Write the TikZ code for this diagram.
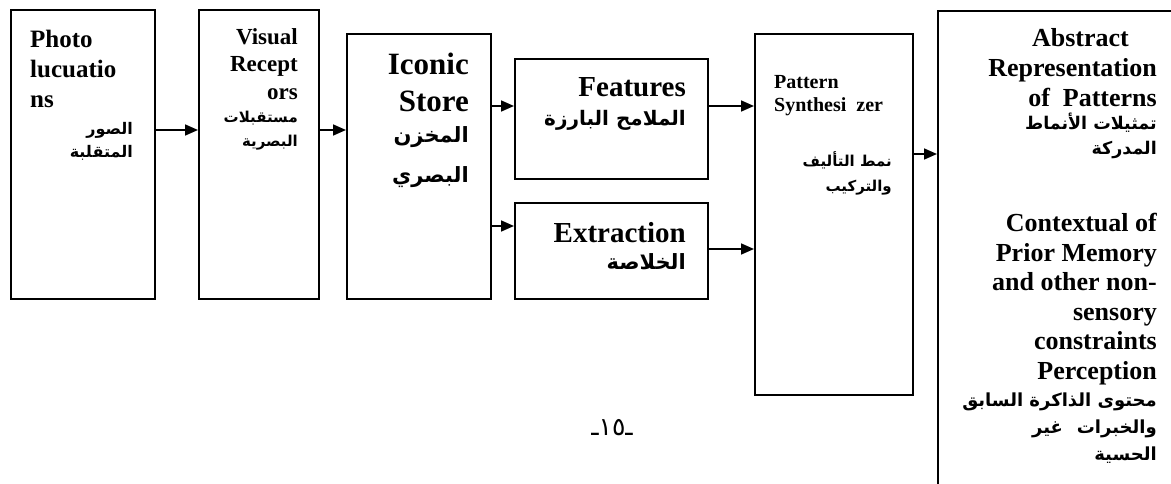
\documentclass[tikz,border=0pt]{standalone}
\usepackage{fontspec}
\setmainfont{Liberation Serif}
\newfontfamily\arabicfont[Script=Arabic]{DejaVu Sans}
\usetikzlibrary{arrows.meta}
\TeXXeTstate=1
\newcommand{\ar}[1]{\beginR #1\endR}
\tikzset{
	box/.style={draw, line width=1.7pt, inner sep=0pt, anchor=north west},
	arrow/.style={line width=1.7pt, -{Triangle[length=13pt,width=11pt]}},
	entxt/.style 2 args={inner sep=0pt, font=\bfseries\fontsize{#1}{#2}\selectfont},
	artxt/.style 2 args={inner sep=0pt, align=right, font=\arabicfont\bfseries\fontsize{#1}{#2}\selectfont},
}
\begin{document}
\begin{tikzpicture}[x=1pt,y=-1pt]
		\useasboundingbox (0,0) rectangle (1171,484);

		% Draw the boxes
		\node[box, minimum width=144pt, minimum height=289pt] (photo) at (10,9) {};
		\node[box, minimum width=120pt, minimum height=289pt] (visual) at (198,9) {};
		\node[box, minimum width=144pt, minimum height=265pt] (iconic) at (346,33) {};
		\node[box, minimum width=193pt, minimum height=120pt] (features) at (514,58) {};
		\node[box, minimum width=193pt, minimum height=96pt] (extraction) at (514,202) {};
		\node[box, minimum width=158pt, minimum height=361pt] (pattern) at (754,33) {};
		\node[box, minimum width=260pt, minimum height=500pt] (abstract) at (937,10) {};

		% Texts in the boxes
		\node[entxt={25}{30}, anchor=north west, align=left] (photoT) at (30,30) {Photo\\lucuatio\\ns};
		\node[artxt={16}{23}, anchor=north east] (photoA) at (133,122) {\ar{الصور}\\\ar{المتقلبة}};
		\node[entxt={23}{27.5}, anchor=north east, align=right] (visualT) at (298,28) {Visual\\Recept\\ors};
		\node[artxt={15}{24}, anchor=north east] (visualA) at (298,111) {\ar{مستقبلات}\\\ar{البصرية}};
		\node[entxt={31}{37}, anchor=north east, align=right] (iconicT) at (469,53) {Iconic\\Store};
		\node[artxt={21}{40}, anchor=north east] (iconicA) at (469,126) {\ar{المخزن}\\\ar{البصري}};
		\node[entxt={29}{34}, anchor=north east] (featuresT) at (686,77) {Features};
		\node[artxt={20}{26}, anchor=north east] (featuresA) at (686,110) {\ar{الملامح البارزة}};
		\node[entxt={29}{34}, anchor=north east] (extractionT) at (686,222) {Extraction};
		\node[artxt={21}{26}, anchor=north east] (extractionA) at (686,253) {\ar{الخلاصة}};
		\node[entxt={20}{23}, anchor=north west, align=left] (patternT) at (774,75) {Pattern\\Synthesi\ \ zer};
		\node[artxt={15}{25}, anchor=north east] (patternA) at (892,151) {\ar{نمط التأليف}\\\ar{والتركيب}};
		\node[entxt={26}{30}, anchor=north east, align=right] (abstractT) at (1157,28) {\mbox{Abstract\hspace{28pt}}\\Representation\\of\ \ Patterns};
		\node[artxt={17.5}{25}, anchor=north east] (abstractA) at (1157,113) {\ar{تمثيلات الأنماط}\\\ar{المدركة}};
		\node[entxt={26}{29.5}, anchor=north east, align=right] (contextT) at (1157,213) {Contextual of\\Prior Memory\\and other non-\\sensory\\constraints\\Perception};
		\node[artxt={18}{27}, anchor=north east] (contextA) at (1157,393) {\ar{محتوى الذاكرة السابق}\\\ar{والخبرات\hspace{14pt}غير}\\\ar{الحسية}};

		% Draw arrows
		\draw[arrow] (photo.east |- 0,130) -- (visual.west |- 0,130);
		\draw[arrow] (visual.east |- 0,130) -- (iconic.west |- 0,130);
		\draw[arrow] (iconic.east |- 0,106) -- (features.west |- 0,106);
		\draw[arrow] (iconic.east |- 0,226) -- (extraction.west |- 0,226);
		\draw[arrow] (features.east |- 0,106) -- (pattern.west |- 0,106);
		\draw[arrow] (extraction.east |- 0,249) -- (pattern.west |- 0,249);
		\draw[arrow] (pattern.east |- 0,154) -- (abstract.west |- 0,154);

		\node[font=\arabicfont\fontsize{25}{28}\selectfont, inner sep=0pt] (pagenum) at (612,428) {ـ١٥ـ};
	\end{tikzpicture}
\end{document}
